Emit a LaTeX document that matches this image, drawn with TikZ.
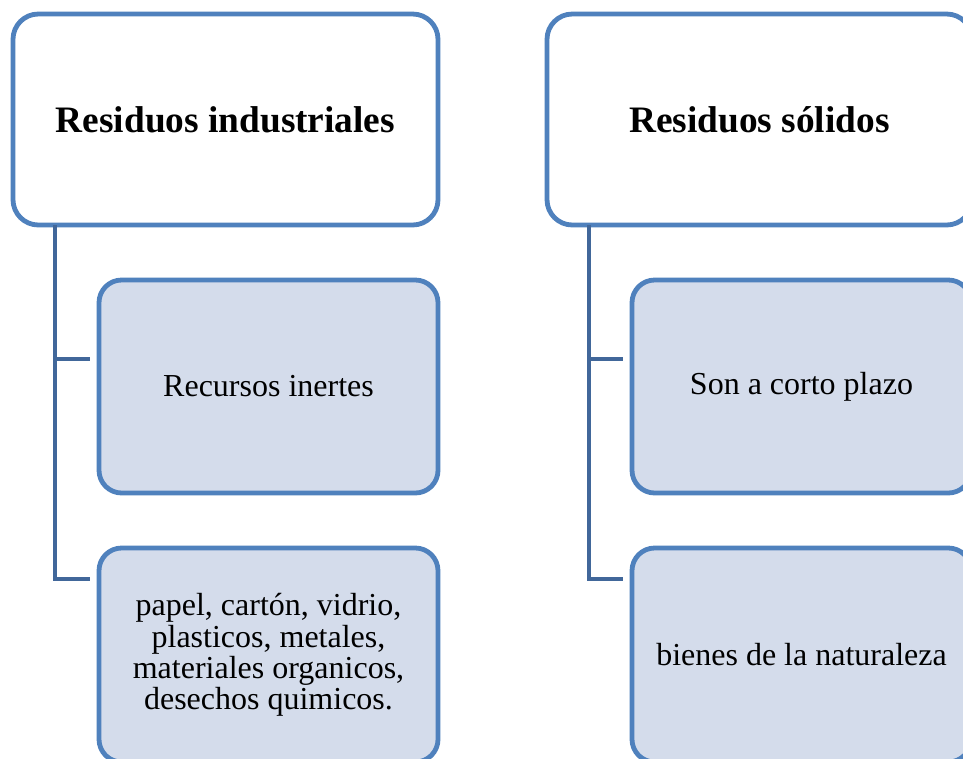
\documentclass[tikz,border=0pt]{standalone}
\usepackage{fontspec}
\setmainfont{Liberation Serif}
\definecolor{boxline}{HTML}{4F81BD}
\definecolor{boxfill}{HTML}{D4DCEB}
\definecolor{connline}{HTML}{41679A}
\begin{document}
\begin{tikzpicture}[x=0.75pt,y=-0.75pt,
  topbox/.style={draw=boxline,line width=3.6pt,fill=white,rounded corners=19pt,
    minimum width=318.75pt,minimum height=158.25pt,outer sep=0pt,inner sep=0pt,
    font=\fontsize{28}{30}\selectfont\bfseries},
  childbox/.style={draw=boxline,line width=3.6pt,fill=boxfill,rounded corners=17pt,
    minimum width=254.25pt,outer sep=0pt,inner sep=0pt,align=center,
    font=\fontsize{24}{23.4}\selectfont},
  conn/.style={draw=connline,line width=3.5pt,line join=miter}]
\useasboundingbox (0,0) rectangle (963,758);
\clip (0,0) rectangle (963,758);
\fill[white] (0,0) rectangle (963,758);
% nodes
\node[topbox] (tl) at (225.5,119.5) {Residuos industriales};
\node[topbox] (tr) at (759.5,119.5) {Residuos sólidos};
\node[childbox,minimum height=159.75pt] (l1) at (268.5,386.5) {Recursos inertes};
\node[childbox,minimum height=160.5pt] (l2) at (268.5,655) {papel, cartón, vidrio,\\plasticos, metales,\\materiales organicos,\\desechos quimicos.};
\node[childbox,minimum height=159.75pt] (r1) at (801.5,386.5) {Son a corto plazo};
\node[childbox,minimum height=160.5pt] (r2) at (801.5,655) {bienes de la naturaleza};
% connector coordinates
\coordinate (lx) at (55,0);
\coordinate (lt1) at (90,359);
\coordinate (lt2) at (90,579);
\coordinate (rx) at (589,0);
\coordinate (rt1) at (623,359);
\coordinate (rt2) at (623,579);
% connectors
\draw[conn] (tl.south -| lx) -- (lx |- lt2) -- (lt2);
\draw[conn] (lx |- lt1) -- (lt1);
\draw[conn] (tr.south -| rx) -- (rx |- rt2) -- (rt2);
\draw[conn] (rx |- rt1) -- (rt1);
\end{tikzpicture}
\end{document}
